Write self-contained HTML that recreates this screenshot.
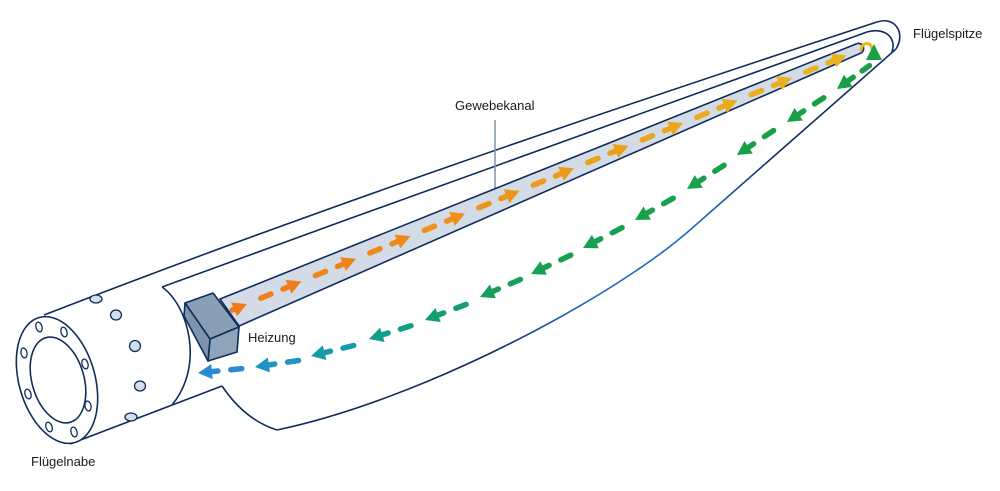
<!DOCTYPE html>
<html><head><meta charset="utf-8"><style>
html,body{margin:0;padding:0;background:#fff;}
svg{display:block;}
text{font-family:"Liberation Sans",Arial,sans-serif;font-size:13px;fill:#1a1a1a;}
</style></head><body>
<svg width="1000" height="491" viewBox="0 0 1000 491" xmlns="http://www.w3.org/2000/svg">
<defs>
<linearGradient id="lg" gradientUnits="userSpaceOnUse" x1="896" y1="49" x2="277" y2="430">
<stop offset="0" stop-color="#0f2d5c"/>
<stop offset="0.22" stop-color="#0f2d5c"/>
<stop offset="0.36" stop-color="#1f6cc0"/>
<stop offset="0.55" stop-color="#1f6cc0"/>
<stop offset="0.7" stop-color="#0f2d5c"/>
<stop offset="1" stop-color="#0f2d5c"/>
</linearGradient>
</defs>
<rect width="1000" height="491" fill="#fff"/>
<g fill="none" stroke="#0f2d5c" stroke-width="1.6" stroke-linejoin="round">
<path d="M44,315 C320,208 600,113 877,22 C895,16 906,33 896,49"/>
<path d="M162,287 C400,200 650,110 867,32 C884,27 897,37 892,52"/>
<path d="M162,287 C188,305 205,365 172,405"/>
<path d="M70,444 L222,386"/>
<path d="M222,386 Q245,420 277,430"/>
</g>
<path d="M896,49 L690,230 C610,300 420,400 277,430" fill="none" stroke="url(#lg)" stroke-width="1.6"/>

<g stroke="#0f2d5c" stroke-width="1.6">
<ellipse cx="57" cy="380" rx="38" ry="65" fill="#fff" transform="rotate(-16 57 380)"/>
<ellipse cx="58" cy="380" rx="26" ry="44" fill="#fff" transform="rotate(-16 58 380)"/>
</g>
<g fill="#fff" stroke="#0f2d5c" stroke-width="1.3">
<ellipse cx="39" cy="327" rx="3" ry="5" transform="rotate(-16 39 327)"/>
<ellipse cx="64" cy="332" rx="3" ry="5" transform="rotate(-16 64 332)"/>
<ellipse cx="24" cy="353" rx="3" ry="5" transform="rotate(-10 24 353)"/>
<ellipse cx="85" cy="364" rx="3" ry="5" transform="rotate(-16 85 364)"/>
<ellipse cx="28" cy="394" rx="3" ry="5" transform="rotate(-16 28 394)"/>
<ellipse cx="88" cy="406" rx="3" ry="5" transform="rotate(-10 88 406)"/>
<ellipse cx="49" cy="427" rx="3" ry="5" transform="rotate(-20 49 427)"/>
<ellipse cx="74" cy="432" rx="3" ry="5" transform="rotate(-16 74 432)"/>
</g>
<g fill="#d5dfe9" stroke="#0f2d5c" stroke-width="1.3">
<ellipse cx="96" cy="299" rx="6" ry="4"/>
<ellipse cx="116" cy="315" rx="5.5" ry="5"/>
<ellipse cx="135" cy="346" rx="5.5" ry="5.5"/>
<ellipse cx="140" cy="386" rx="5.5" ry="5"/>
<ellipse cx="131" cy="417" rx="6" ry="4"/>
</g>

<line x1="495" y1="120" x2="495" y2="190" stroke="#7d93ab" stroke-width="1.5"/>

<path d="M220,299 L856,44 A4.8,4.8 0 0 1 861,53 L239,326 Z" fill="#d3dce6" stroke="#0f2d5c" stroke-width="1.6" stroke-linejoin="round"/>

<g stroke="#0f2d5c" stroke-width="1.6" stroke-linejoin="round">
<polygon points="185,303 213,293 239,327 210,339" fill="#8a9fb6"/>
<polygon points="210,339 239,327 237,352 208,361" fill="#8fa4ba"/>
<polygon points="185,303 210,339 208,361 184,316" fill="#7f95ad"/>
</g>

<g transform="translate(247,304) rotate(-22.54)" stroke-width="5.5" stroke-linecap="round">
<g fill="#f07a1a" stroke="#f07a1a"><path d="M-16,0H-12"/><polygon stroke="none" points="0,0 -14,-7.5 -14,7.5"/></g>
<g fill="#ef7f1a" stroke="#ef7f1a"><path d="M15,0H26M39,0H47"/><polygon stroke="none" points="59,0 45,-7.5 45,7.5"/></g>
<g fill="#ef851a" stroke="#ef851a"><path d="M74,0H85M98,0H106"/><polygon stroke="none" points="118,0 104,-7.5 104,7.5"/></g>
<g fill="#ee8a1b" stroke="#ee8a1b"><path d="M133,0H144M157,0H165"/><polygon stroke="none" points="177,0 163,-7.5 163,7.5"/></g>
<g fill="#ee901b" stroke="#ee901b"><path d="M192,0H203M216,0H224"/><polygon stroke="none" points="236,0 222,-7.5 222,7.5"/></g>
<g fill="#ed951b" stroke="#ed951b"><path d="M251,0H262M275,0H283"/><polygon stroke="none" points="295,0 281,-7.5 281,7.5"/></g>
<g fill="#ec9a1c" stroke="#ec9a1c"><path d="M310,0H321M334,0H342"/><polygon stroke="none" points="354,0 340,-7.5 340,7.5"/></g>
<g fill="#eba01c" stroke="#eba01c"><path d="M369,0H380M393,0H401"/><polygon stroke="none" points="413,0 399,-7.5 399,7.5"/></g>
<g fill="#eaa51c" stroke="#eaa51c"><path d="M428,0H439M452,0H460"/><polygon stroke="none" points="472,0 458,-7.5 458,7.5"/></g>
<g fill="#eaaa1d" stroke="#eaaa1d"><path d="M487,0H498M511,0H519"/><polygon stroke="none" points="531,0 517,-7.5 517,7.5"/></g>
<g fill="#e9af1d" stroke="#e9af1d"><path d="M546,0H557M570,0H578"/><polygon stroke="none" points="590,0 576,-7.5 576,7.5"/></g>
<g fill="#e8b41e" stroke="#e8b41e"><path d="M605,0H616M629,0H637"/><polygon stroke="none" points="649,0 635,-7.5 635,7.5"/></g>
</g>
<path d="M861,50 C862,42 871,41 872,49" fill="none" stroke="#e8b41e" stroke-width="3" stroke-linecap="round"/>

<polygon points="874,44 866,60 882,60" fill="#1a9f48"/>
<g stroke-width="5.5" stroke-linecap="round">
<g transform="translate(837,89) rotate(144.2)" fill="#1a9f48" stroke="#1a9f48"><path d="M-40,0H-31M-20,0H-12"/><polygon stroke="none" points="0,0 -14,-7.5 -14,7.5"/></g>
<g transform="translate(787,122) rotate(146.6)" fill="#1a9f48" stroke="#1a9f48"><path d="M-44,0H-33M-20,0H-12"/><polygon stroke="none" points="0,0 -14,-7.5 -14,7.5"/></g>
<g transform="translate(737,155) rotate(146.2)" fill="#1a9f48" stroke="#1a9f48"><path d="M-44,0H-33M-20,0H-12"/><polygon stroke="none" points="0,0 -14,-7.5 -14,7.5"/></g>
<g transform="translate(687,189) rotate(147.4)" fill="#1a9f4a" stroke="#1a9f4a"><path d="M-44,0H-33M-20,0H-12"/><polygon stroke="none" points="0,0 -14,-7.5 -14,7.5"/></g>
<g transform="translate(635,220) rotate(150.3)" fill="#18a04c" stroke="#18a04c"><path d="M-44,0H-33M-20,0H-12"/><polygon stroke="none" points="0,0 -14,-7.5 -14,7.5"/></g>
<g transform="translate(583,248) rotate(152.5)" fill="#17a04f" stroke="#17a04f"><path d="M-44,0H-33M-20,0H-12"/><polygon stroke="none" points="0,0 -14,-7.5 -14,7.5"/></g>
<g transform="translate(531,274) rotate(154.6)" fill="#16a054" stroke="#16a054"><path d="M-44,0H-33M-20,0H-12"/><polygon stroke="none" points="0,0 -14,-7.5 -14,7.5"/></g>
<g transform="translate(480,297) rotate(156.5)" fill="#15a05c" stroke="#15a05c"><path d="M-44,0H-33M-20,0H-12"/><polygon stroke="none" points="0,0 -14,-7.5 -14,7.5"/></g>
<g transform="translate(425,320) rotate(159.2)" fill="#12a06e" stroke="#12a06e"><path d="M-44,0H-33M-20,0H-12"/><polygon stroke="none" points="0,0 -14,-7.5 -14,7.5"/></g>
<g transform="translate(369,339) rotate(162.5)" fill="#0f9f88" stroke="#0f9f88"><path d="M-44,0H-33M-20,0H-12"/><polygon stroke="none" points="0,0 -14,-7.5 -14,7.5"/></g>
<g transform="translate(311,356) rotate(166.2)" fill="#169aa8" stroke="#169aa8"><path d="M-44,0H-33M-20,0H-12"/><polygon stroke="none" points="0,0 -14,-7.5 -14,7.5"/></g>
<g transform="translate(255,367) rotate(171.5)" fill="#2093c4" stroke="#2093c4"><path d="M-44,0H-33M-20,0H-12"/><polygon stroke="none" points="0,0 -14,-7.5 -14,7.5"/></g>
<g transform="translate(198,373) rotate(174.3)" fill="#2a8bd2" stroke="#2a8bd2"><path d="M-44,0H-33M-20,0H-12"/><polygon stroke="none" points="0,0 -14,-7.5 -14,7.5"/></g>
</g>

<text x="455" y="110">Gewebekanal</text>
<text x="248" y="342">Heizung</text>
<text x="31" y="466">Flügelnabe</text>
<text x="913" y="38">Flügelspitze</text>
</svg>
</body></html>
